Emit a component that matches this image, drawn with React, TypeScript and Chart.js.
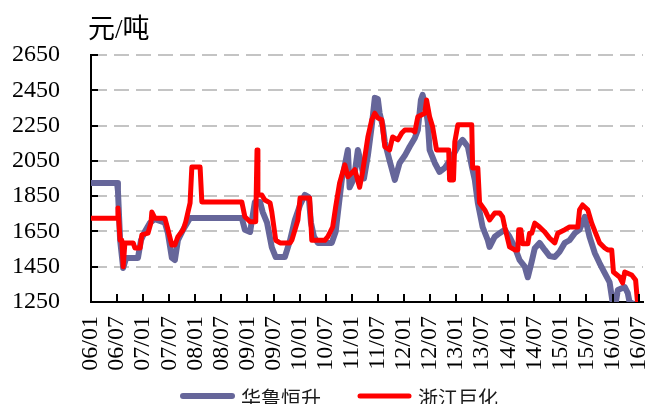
import React, { useEffect, useRef } from "react";
import { Chart, registerables } from "chart.js";

Chart.register(...registerables);

// x positions are months elapsed since January 2006
const xTickLabels = [
  "06/01", "06/07", "07/01", "07/07", "08/01", "08/07", "09/01", "09/07",
  "10/01", "10/07", "11/01", "11/07", "12/01", "12/07", "13/01", "13/07",
  "14/01", "14/07", "15/01", "15/07", "16/01", "16/07",
];
const yMin = 1250;
const yMax = 2650;
const yStep = 200;
const unitLabel = "元/吨";
const seriesNames = ["华鲁恒升", "浙江巨化"];
const seriesColors = ["#66669A", "#FF0000"];

const hualuMonths = [
  0, 6.0, 6.2, 6.7, 7.4, 8.1, 10.8, 11.5, 12.4, 13.6, 14.7, 17.0, 17.7, 18.6, 19.3, 20.0,
  21.2, 22.8, 34.7, 35.4, 36.6, 37.7, 38.9, 39.5, 40.5, 41.6, 42.5, 44.6, 45.8, 46.9, 48.1,
  49.2, 50.1, 50.6, 51.3, 52.2, 55.4, 56.3, 56.8, 57.7, 58.6, 59.1, 59.5, 60.5, 61.4, 62.1,
  62.8, 63.7, 64.6, 65.3, 66.0, 66.4, 67.1, 67.6, 68.7, 69.9, 71.0, 72.2, 73.3, 74.5, 75.2,
  75.9, 76.3, 77.0, 77.5, 77.9, 79.1, 80.2, 81.4, 82.5, 83.7, 84.8, 85.5, 86.7, 87.6, 88.3,
  89.0, 90.1, 91.3, 91.7, 92.9, 94.0, 95.2, 96.3, 97.5, 98.6, 99.8, 100.5, 101.4, 102.1,
  103.2, 104.4, 105.5, 106.7, 107.8, 109.0, 110.1, 111.3, 112.4, 113.6, 114.7, 115.9, 117.0,
  118.2, 119.3, 120.0, 120.7, 121.2, 122.8, 123.5, 123.9, 125.5,
];
const hualuPrices = [
  1925, 1925, 1880, 1600, 1443, 1500, 1500, 1600, 1650, 1700, 1720, 1700, 1640, 1500, 1488, 1600,
  1660, 1726, 1726, 1660, 1647, 1817, 1817, 1760, 1700, 1560, 1505, 1505, 1600, 1715, 1800,
  1857, 1845, 1700, 1620, 1585, 1585, 1650, 1755, 1942, 2050, 2112, 1900, 1950, 2112, 2040,
  1950, 2080, 2250, 2407, 2400, 2320, 2250, 2157, 2050, 1942, 2038, 2080, 2130, 2180, 2225,
  2395, 2424, 2350, 2265, 2112, 2038, 1987, 2010, 2050, 2100, 2150, 2169, 2130, 2020, 1942,
  1812, 1675, 1600, 1562, 1620, 1640, 1660, 1620, 1560, 1488, 1450, 1390, 1480, 1555,
  1585, 1545, 1510, 1505, 1535, 1585, 1600, 1640, 1660, 1733, 1620, 1528, 1471,
  1414, 1363, 1250, 1240, 1318, 1335, 1300, 1250, 1230,
];

const juhuaMonths = [
  0, 6.0, 6.2, 6.7, 7.1, 7.4, 7.8, 9.7, 10.1, 11.3, 11.7, 13.1, 13.8, 14.0, 14.7, 17.0, 17.7,
  18.6, 19.3, 20.0, 21.2, 21.8, 22.8, 23.2, 25.1, 25.5, 34.7, 35.4, 36.6, 37.9, 38.2, 38.4,
  39.3, 40.0, 41.2, 41.6, 42.5, 43.5, 45.8, 46.2, 47.6, 48.1, 50.3, 50.8, 53.8, 54.5, 55.6,
  56.3, 57.2, 58.4, 59.1, 60.7, 61.8, 62.5, 63.7, 64.6, 65.3, 66.0, 66.9, 67.6, 68.7, 69.4,
  70.6, 71.5, 72.2, 73.8, 74.5, 75.2, 76.8, 77.2, 77.9, 78.6, 79.5, 82.3, 82.5, 83.4, 83.7,
  84.4, 87.6, 87.8, 89.0, 89.4, 90.6, 91.7, 92.9, 94.0, 94.7, 95.2, 96.3, 97.5, 98.2, 98.4,
  98.9, 99.3, 100.5, 100.9, 101.4, 102.1, 103.2, 104.4, 105.5, 106.7, 107.4, 109.0, 110.1,
  112.0, 112.4, 113.1, 114.3, 115.2, 116.1, 117.0, 118.2, 118.9, 119.8, 120.2, 121.6, 122.3,
  122.8, 124.4, 125.3, 125.8,
];
const juhuaPrices = [
  1725, 1725, 1783, 1600, 1600, 1450, 1585, 1585, 1556, 1556, 1630, 1640, 1700, 1760, 1725, 1725, 1660,
  1573, 1573, 1620, 1660, 1705, 1812, 2015, 2015, 1817, 1817, 1733, 1705, 1705, 2112, 1857,
  1857, 1828, 1812, 1760, 1600, 1585, 1585, 1600, 1715, 1840, 1840, 1600, 1600, 1620, 1675,
  1790, 1925, 2027, 1960, 2000, 1900, 1990, 2185, 2283, 2320, 2293, 2283, 2130, 2112, 2185,
  2169, 2208, 2225, 2225, 2214, 2300, 2320, 2395, 2300, 2243, 2112, 2112, 1942, 1942, 2157,
  2254, 2254, 2010, 2010, 1812, 1772, 1715, 1755, 1755, 1733, 1675, 1562, 1545, 1545, 1660,
  1660, 1580, 1580, 1640, 1640, 1697, 1675, 1647, 1612, 1585, 1640, 1660, 1675,
  1675, 1772, 1800, 1772, 1697, 1640, 1585, 1556, 1545, 1545, 1420, 1392, 1358,
  1420, 1403, 1375, 1230,
];

const SERIF = "'Liberation Serif', 'Noto Sans CJK SC', serif";
const CJK = "'Noto Sans CJK SC', sans-serif";

const decorPlugin = {
  id: "decor",
  afterDraw(chart: any) {
    const { ctx, chartArea, scales } = chart;
    const xs = scales.x;
    const ys = scales.y;
    ctx.save();
    // inner tick marks
    ctx.strokeStyle = "#000";
    ctx.lineWidth = 2;
    ys.ticks.forEach((t: any) => {
      const y = Math.round(ys.getPixelForValue(t.value));
      ctx.beginPath();
      ctx.moveTo(chartArea.left, y);
      ctx.lineTo(chartArea.left + 7, y);
      ctx.stroke();
    });
    xs.ticks.forEach((t: any) => {
      const x = Math.round(xs.getPixelForValue(t.value));
      ctx.beginPath();
      ctx.moveTo(x, chartArea.bottom);
      ctx.lineTo(x, chartArea.bottom - 8);
      ctx.stroke();
    });
    // unit label
    ctx.fillStyle = "#000";
    ctx.font = "27px " + SERIF;
    ctx.textAlign = "left";
    ctx.textBaseline = "middle";
    ctx.fillText(unitLabel, chartArea.left - 3, 31);
    // legend
    ctx.font = "20px " + CJK;
    const lineLen = 55;
    const gapText = 6;
    const gapItem = 36;
    const ds = chart.data.datasets;
    const widths = ds.map((d: any) => lineLen + gapText + ctx.measureText(d.label).width);
    const total = widths.reduce((a: number, b: number) => a + b, 0) + gapItem * (ds.length - 1);
    let x = 339 - total / 2;
    const ly = 396;
    ds.forEach((d: any, i: number) => {
      ctx.strokeStyle = d.borderColor;
      ctx.lineWidth = d.borderWidth;
      ctx.lineCap = "round";
      ctx.beginPath();
      ctx.moveTo(x + 3, ly);
      ctx.lineTo(x + lineLen - 3, ly);
      ctx.stroke();
      ctx.fillStyle = "#1a1a1a";
      ctx.fillText(d.label, x + lineLen + gapText, ly + 2);
      x += widths[i] + gapItem;
    });
    ctx.restore();
  },
};

export default function App() {
  const ref = useRef<HTMLCanvasElement>(null);
  useEffect(() => {
    const canvas = ref.current;
    if (!canvas) return;
    const chart = new Chart(canvas, {
      type: "line",
      data: {
        datasets: [
          {
            label: seriesNames[0],
            data: hualuMonths.map((m, i) => ({ x: m, y: hualuPrices[i] })),
            borderColor: seriesColors[0],
            backgroundColor: seriesColors[0],
            borderWidth: 6,
            pointRadius: 0,
            tension: 0,
            borderJoinStyle: "round",
            borderCapStyle: "round",
            fill: false,
            order: 2,
          },
          {
            label: seriesNames[1],
            data: juhuaMonths.map((m, i) => ({ x: m, y: juhuaPrices[i] })),
            borderColor: seriesColors[1],
            backgroundColor: seriesColors[1],
            borderWidth: 5,
            pointRadius: 0,
            tension: 0,
            borderJoinStyle: "round",
            borderCapStyle: "round",
            fill: false,
            order: 1,
          },
        ],
      },
      options: {
        responsive: false,
        animation: false,
        devicePixelRatio: 1,
        events: [],
        layout: { padding: { top: 55, right: 6, bottom: 0, left: 0 } },
        plugins: {
          legend: { display: false },
          tooltip: { enabled: false },
          title: { display: false },
        },
        scales: {
          x: {
            type: "linear",
            min: 0,
            max: 127,
            afterBuildTicks: (s: any) => {
              s.ticks = xTickLabels.map((_, i) => ({ value: i * 6 }));
            },
            afterFit: (s: any) => {
              s.height = 102;
              s.paddingLeft = 0;
              s.paddingRight = 0;
            },
            grid: { display: false, drawTicks: false },
            border: { display: true, color: "#000", width: 2 },
            ticks: {
              autoSkip: false,
              minRotation: 90,
              maxRotation: 90,
              padding: 14,
              color: "#000",
              font: { family: SERIF, size: 24 },
              callback: (v: any) => xTickLabels[Math.round(Number(v) / 6)] ?? "",
            },
          },
          y: {
            type: "linear",
            min: yMin,
            max: yMax,
            afterFit: (s: any) => {
              s.width = 91;
            },
            grid: {
              drawTicks: false,
              lineWidth: 2,
              color: (c: any) => (c.tick && c.tick.value === yMin ? "rgba(0,0,0,0)" : "#C4C4C4"),
            },
            border: { display: true, color: "#000", width: 2, dash: [15, 7] },
            ticks: {
              stepSize: yStep,
              padding: 31,
              color: "#000",
              font: { family: SERIF, size: 24 },
              callback: (v: any) => String(v),
            },
          },
        },
      },
      plugins: [decorPlugin],
    } as any);
    return () => chart.destroy();
  }, []);
  return (
    <div
      style={{
        position: "fixed",
        left: 0,
        top: 0,
        width: 649,
        height: 404,
        overflow: "hidden",
        background: "#fff",
      }}
    >
      <canvas ref={ref} width={649} height={404} style={{ display: "block", width: 649, height: 404 }} />
    </div>
  );
}
